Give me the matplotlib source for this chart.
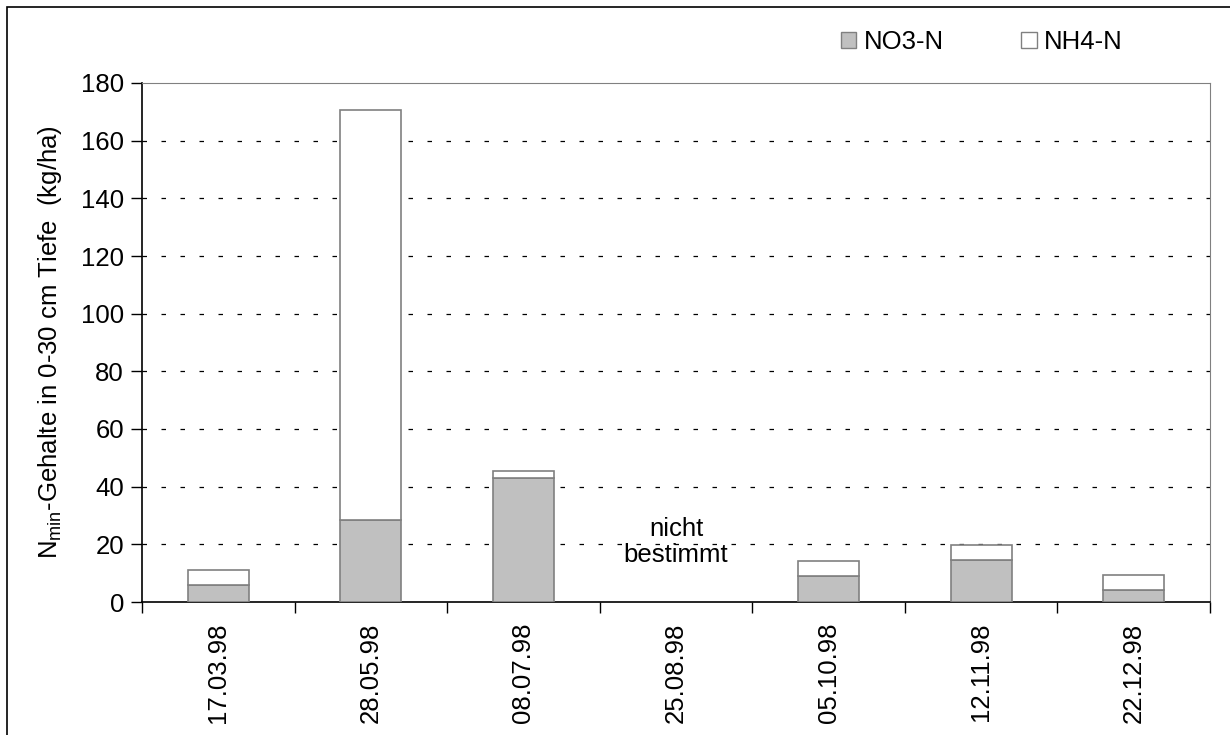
import numpy as np
import matplotlib
matplotlib.use("Agg")
import matplotlib.pyplot as plt
from matplotlib.patches import Rectangle, Patch

plt.rcParams["font.family"] = ["Liberation Sans", "DejaVu Sans"]
plt.rcParams["mathtext.default"] = "regular"

dates = ["17.03.98", "28.05.98", "08.07.98", "25.08.98", "05.10.98", "12.11.98", "22.12.98"]
# 25.08.98 was not measured ("nicht bestimmt")
no3 = [6.0, 28.5, 43.0, np.nan, 9.0, 14.7, 4.1]
nh4 = [5.2, 142.0, 2.6, np.nan, 5.2, 5.1, 5.3]
missing = "25.08.98"

GREY = "#c0c0c0"; EDGE = "#808080"; FS = 18.5

fig = plt.figure(figsize=(12.3, 7.35), dpi=100)
ax = fig.add_axes([142 / 1230, 1 - 602 / 735, 1068 / 1230, 519 / 735])

x = np.arange(len(dates))
ax.bar(x, no3, width=0.4, color=GREY, edgecolor=EDGE, linewidth=1.2, zorder=3)
ax.bar(x, nh4, width=0.4, bottom=no3, color="white", edgecolor=EDGE, linewidth=1.2, zorder=3)

ax.set_xlim(-0.5, len(dates) - 0.5)
ax.set_ylim(0, 180)
ax.set_yticks(np.arange(0, 181, 20))
ax.tick_params(axis="y", labelsize=FS, direction="out", length=8, width=1, pad=5)
for yv in range(20, 180, 20):
    ax.axhline(yv, color="black", linewidth=0.9, ls=(0, (3.6, 11.6)), zorder=1)

# category labels, ticks between categories
ax.set_xticks(x)
ax.set_xticklabels(dates, rotation=90, fontsize=FS)
ax.tick_params(axis="x", length=0, pad=15)
ax.set_xticks(np.arange(-0.5, len(dates), 1), minor=True)
ax.tick_params(axis="x", which="minor", direction="out", length=8, width=1)

for side in ["top", "right"]:
    ax.spines[side].set_color(EDGE)
for side in ["left", "bottom"]:
    ax.spines[side].set_color("black")
    ax.spines[side].set_linewidth(1.2)

ax.text(dates.index(missing), 20.8, "nicht\nbestimmt", ha="center", va="center", fontsize=FS,
        linespacing=1.15, zorder=4)

ax.set_ylabel("N$_{min}$-Gehalte in 0-30 cm Tiefe  (kg/ha)", fontsize=FS, labelpad=12)

handles = [Patch(facecolor=GREY, edgecolor=EDGE, label="NO3-N"),
           Patch(facecolor="white", edgecolor=EDGE, label="NH4-N")]
fig.legend(handles=handles, loc="center", bbox_to_anchor=(982 / 1230, 1 - 42 / 735), ncol=2,
           fontsize=FS, frameon=False, handlelength=0.6, handleheight=0.6, handletextpad=0.3,
           columnspacing=3.0)

fig.patches.append(Rectangle((7 / 1230, -0.1), 1.2, 1 - 7 / 735 + 0.1, transform=fig.transFigure,
                             fill=False, edgecolor="black", linewidth=1.2))

fig.savefig("out.png", dpi=100)
